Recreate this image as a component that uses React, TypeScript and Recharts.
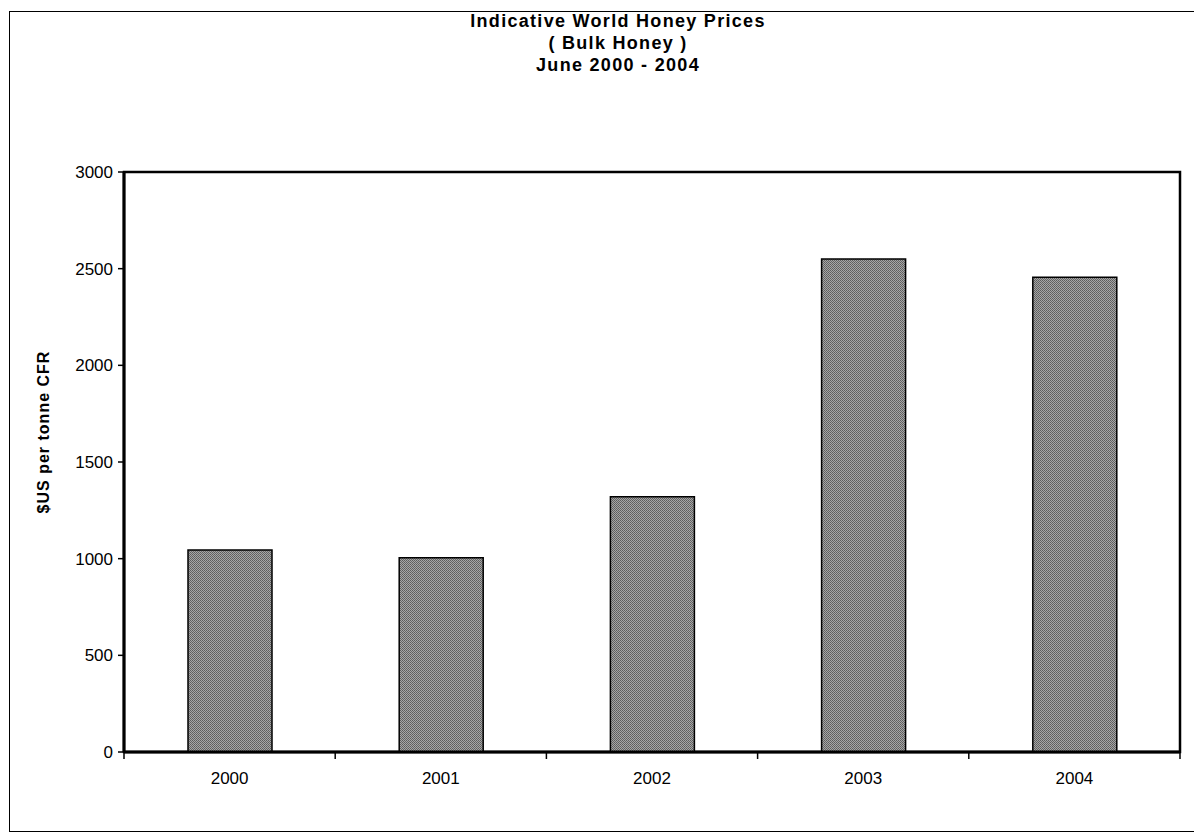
import React from 'react';
import { BarChart, Bar, XAxis, YAxis, ReferenceArea } from 'recharts';

const years = ['2000', '2001', '2002', '2003', '2004'];
const prices = [1045, 1005, 1320, 2550, 2455];
const yTicks = [0, 500, 1000, 1500, 2000, 2500, 3000];

const data = years.map((year, i) => ({ year, price: prices[i] }));

const FONT = '"Liberation Sans", Arial, sans-serif';
const W = 1188;
const H = 824;
const margin = { top: 164, right: 16, bottom: 40, left: 56 };
const Y_AXIS_W = 60;
const X_AXIS_H = 40;
const plotW = W - margin.left - margin.right - Y_AXIS_W;
const band = plotW / years.length;

// Excel-style: tick marks sit between categories, labels in the middle
function CategoryTick(props: any) {
  const { x, y, payload, index } = props;
  const left = x - band / 2;
  return (
    <g>
      <line x1={left} x2={left} y1={y} y2={y + 7} stroke="#000" strokeWidth={1.5} />
      {index === years.length - 1 && (
        <line x1={x + band / 2} x2={x + band / 2} y1={y} y2={y + 7} stroke="#000" strokeWidth={1.5} />
      )}
      <text x={x} y={y + 32} textAnchor="middle" fill="#000" fontSize={17} fontFamily={FONT}>
        {payload.value}
      </text>
    </g>
  );
}

export default function App() {
  return (
    <div style={{ position: 'relative', width: W, height: H, fontFamily: FONT }}>
      <div
        style={{
          position: 'absolute',
          left: 1,
          top: 3,
          width: 1186,
          height: 821,
          boxSizing: 'border-box',
          border: '1.5px solid #000',
        }}
      />
      <div
        style={{
          position: 'absolute',
          left: 310,
          width: 600,
          top: 2,
          textAlign: 'center',
          fontWeight: 'bold',
          fontSize: 18,
          lineHeight: '22px',
          letterSpacing: 1.3,
          color: '#000',
        }}
      >
        <div>Indicative World Honey Prices</div>
        <div>( Bulk Honey )</div>
        <div>June 2000 - 2004</div>
      </div>
      <div
        style={{
          position: 'absolute',
          left: 36 - 110,
          top: 424 - 11,
          width: 220,
          height: 22,
          lineHeight: '22px',
          textAlign: 'center',
          transform: 'rotate(-90deg)',
          fontWeight: 'bold',
          fontSize: 16,
          letterSpacing: 1,
          color: '#000',
        }}
      >
        $US per tonne CFR
      </div>
      <div style={{ position: 'absolute', left: 0, top: 0 }}>
        <BarChart width={W} height={H} data={data} margin={margin} barSize={84}>
          <defs>
            <pattern id="dither" width="2" height="2" patternUnits="userSpaceOnUse">
              <rect width="2" height="2" fill="#a6a6a6" />
              <rect width="1" height="1" fill="#5c5c5c" />
              <rect x="1" y="1" width="1" height="1" fill="#666" />
            </pattern>
          </defs>
          <ReferenceArea
            x1="2000"
            x2="2004"
            y1={0}
            y2={3000}
            fill="none"
            fillOpacity={0}
            stroke="#000"
            strokeWidth={2.5}
            strokeOpacity={1}
            ifOverflow="visible"
          />
          <XAxis
            dataKey="year"
            height={X_AXIS_H}
            axisLine={{ stroke: '#000', strokeWidth: 3 }}
            tickLine={false}
            tickSize={0}
            tickMargin={0}
            tick={<CategoryTick />}
            interval={0}
          />
          <YAxis
            width={Y_AXIS_W}
            domain={[0, 3000]}
            ticks={yTicks}
            interval={0}
            axisLine={{ stroke: '#000', strokeWidth: 3 }}
            tickLine={{ stroke: '#000', strokeWidth: 1.5 }}
            tickSize={6}
            tickMargin={5}
            tick={{ fill: '#000', fontSize: 17, fontFamily: FONT }}
          />
          <Bar
            dataKey="price"
            fill="url(#dither)"
            stroke="#000"
            strokeWidth={1.5}
            isAnimationActive={false}
          />
        </BarChart>
      </div>
    </div>
  );
}
